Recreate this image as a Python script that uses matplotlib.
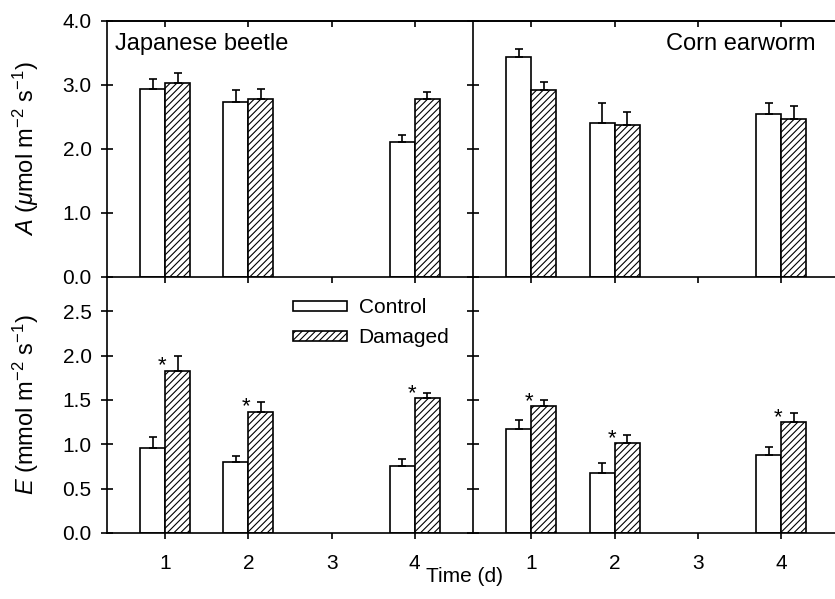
import matplotlib
matplotlib.use('Agg')
import matplotlib.pyplot as plt
import numpy as np

plt.rcParams['font.family'] = ['Liberation Sans', 'DejaVu Sans']
plt.rcParams['mathtext.fontset'] = 'custom'
plt.rcParams['mathtext.rm'] = 'Liberation Sans'
plt.rcParams['mathtext.it'] = 'Liberation Sans:italic'
plt.rcParams['hatch.linewidth'] = 0.8

# data
days = [1, 2, 4]
tick_days = [1, 2, 3, 4]

jb_A_ctrl = [2.93, 2.73, 2.11]
jb_A_ctrl_err = [0.16, 0.18, 0.11]
jb_A_dmg = [3.03, 2.77, 2.78]
jb_A_dmg_err = [0.15, 0.17, 0.10]

ce_A_ctrl = [3.44, 2.40, 2.55]
ce_A_ctrl_err = [0.12, 0.32, 0.17]
ce_A_dmg = [2.91, 2.37, 2.46]
ce_A_dmg_err = [0.14, 0.20, 0.21]

jb_E_ctrl = [0.96, 0.80, 0.76]
jb_E_ctrl_err = [0.12, 0.07, 0.07]
jb_E_dmg = [1.83, 1.37, 1.52]
jb_E_dmg_err = [0.17, 0.11, 0.06]

ce_E_ctrl = [1.17, 0.68, 0.88]
ce_E_ctrl_err = [0.10, 0.11, 0.09]
ce_E_dmg = [1.43, 1.01, 1.25]
ce_E_dmg_err = [0.07, 0.09, 0.10]

jb_E_sig = [True, True, True]
ce_E_sig = [True, True, True]

W, H = 835, 599
fig = plt.figure(figsize=(W / 100, H / 100), dpi=100)

def px_axes(x0, y0, x1, y1):
    return fig.add_axes([x0 / W, 1 - y1 / H, (x1 - x0) / W, (y1 - y0) / H])

ax_tl = px_axes(107, 20.7, 473, 276.7)
ax_tr = px_axes(473, 20.7, 835, 276.7)
ax_bl = px_axes(107, 276.7, 473, 533)
ax_br = px_axes(473, 276.7, 835, 533)

bw = 0.3
lw = 1.2
tick_fs = 15


def draw(ax, ctrl, ctrl_err, dmg, dmg_err, sig=None):
    x = np.array(days, dtype=float)
    ax.bar(x - bw / 2, ctrl, bw, color='white', edgecolor='black', linewidth=lw,
           label='Control', zorder=2)
    ax.bar(x + bw / 2, dmg, bw, color='white', edgecolor='black', linewidth=lw,
           hatch='/////', label='Damaged', zorder=2)
    ax.errorbar(x - bw / 2, ctrl, yerr=[np.zeros(len(ctrl)), ctrl_err], fmt='none',
                ecolor='black', elinewidth=lw, capsize=3, capthick=lw, zorder=3)
    ax.errorbar(x + bw / 2, dmg, yerr=[np.zeros(len(dmg)), dmg_err], fmt='none',
                ecolor='black', elinewidth=lw, capsize=3, capthick=lw, zorder=3)
    if sig is not None:
        for xi, v, e, s in zip(x, dmg, dmg_err, sig):
            if s:
                ax.annotate('*', (xi, v), xytext=(-2, -4), textcoords='offset points',
                            ha='center', va='bottom', fontsize=16)


draw(ax_tl, jb_A_ctrl, jb_A_ctrl_err, jb_A_dmg, jb_A_dmg_err)
draw(ax_tr, ce_A_ctrl, ce_A_ctrl_err, ce_A_dmg, ce_A_dmg_err)
draw(ax_bl, jb_E_ctrl, jb_E_ctrl_err, jb_E_dmg, jb_E_dmg_err, jb_E_sig)
draw(ax_br, ce_E_ctrl, ce_E_ctrl_err, ce_E_dmg, ce_E_dmg_err, ce_E_sig)

for ax in (ax_tl, ax_tr, ax_bl, ax_br):
    ax.set_xticks(tick_days)
    ax.tick_params(axis='x', direction='out', length=4, width=lw)
    ax.tick_params(axis='y', direction='inout', length=8, width=lw,
                   labelsize=tick_fs, pad=7)
    for sp in ax.spines.values():
        sp.set_linewidth(lw)
    ax.spines['right'].set_visible(False)
    ax.set_facecolor('none')

ax_tl.set_xlim(0.3, 4.7)
ax_bl.set_xlim(0.3, 4.7)
ax_tr.set_xlim(0.3, 4.645)
ax_br.set_xlim(0.3, 4.645)

for ax in (ax_tl, ax_tr):
    ax.set_ylim(0, 4.0)
    ax.set_yticks([0, 1, 2, 3, 4])
    ax.tick_params(axis='x', labelbottom=False)
    top = ax.secondary_xaxis('top')
    top.set_xticks(tick_days)
    top.tick_params(direction='in', length=4, width=lw, labeltop=False)
    top.spines['top'].set_linewidth(lw)

for ax in (ax_bl, ax_br):
    ax.set_ylim(0, 2.89)
    ax.set_yticks([0, 0.5, 1.0, 1.5, 2.0, 2.5])
    ax.spines['top'].set_visible(False)
    ax.tick_params(axis='x', labelsize=tick_fs, pad=11)

for ax in (ax_tr, ax_br):
    ax.tick_params(axis='y', labelleft=False)

ax_tl.yaxis.set_major_formatter(matplotlib.ticker.FormatStrFormatter('%.1f'))
ax_bl.yaxis.set_major_formatter(matplotlib.ticker.FormatStrFormatter('%.1f'))

ax_tl.set_ylabel(r'$\mathit{A}$ ($\mathit{\mu}$mol m$^{-2}$ s$^{-1}$)', fontsize=17)
ax_bl.set_ylabel(r'$\mathit{E}$ (mmol m$^{-2}$ s$^{-1}$)', fontsize=17)
ax_tl.yaxis.set_label_coords(-0.18, 0.5)
ax_bl.yaxis.set_label_coords(-0.18, 0.5)

ax_tl.text(0.022, 0.91, 'Japanese beetle', transform=ax_tl.transAxes, fontsize=17,
           ha='left', va='center')
ax_tr.text(0.945, 0.91, 'Corn earworm', transform=ax_tr.transAxes, fontsize=17,
           ha='right', va='center')

ax_bl.legend(loc='upper left', bbox_to_anchor=(0.508, 0.915), frameon=False,
             fontsize=15, handlelength=2.6, handleheight=0.4, handletextpad=0.55,
             labelspacing=0.52, borderpad=0, borderaxespad=0)

fig.text(465 / W, 1 - 577 / H, 'Time (d)', ha='center', va='center', fontsize=15)

fig.savefig('out.png', dpi=100)
